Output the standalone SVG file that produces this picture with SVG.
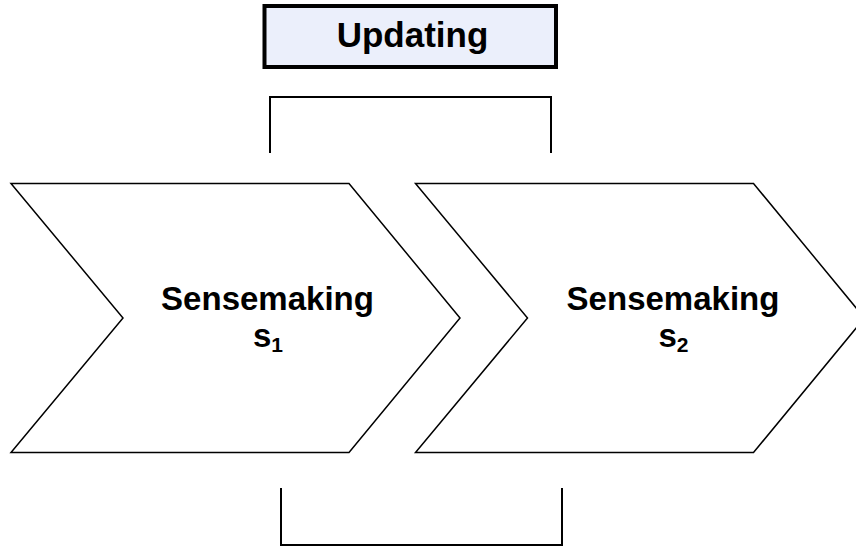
<svg xmlns="http://www.w3.org/2000/svg" width="856" height="548" viewBox="0 0 856 548">
  <style>
    .chev { fill: #ffffff; stroke: #000000; stroke-width: 1.5; stroke-linejoin: miter; }
    .bracket { fill: none; stroke: #000000; stroke-width: 2; }
    .title-box { fill: #ebeffb; stroke: #000000; stroke-width: 4; }
    .lbl { font-family: "Liberation Sans", Arial, sans-serif; font-weight: bold; fill: #000000; text-anchor: middle; }
  </style>
  <rect width="856" height="548" fill="#ffffff"/>

  <g id="updating">
    <rect class="title-box" x="264.5" y="6" width="291.5" height="61"/>
    <text class="lbl" x="412.5" y="47" font-size="35">Updating</text>
  </g>

  <g id="connectors">
    <!-- feedback bracket above the steps -->
    <path class="bracket" d="M270,153 V97 H551 V153"/>
    <!-- feedback bracket below the steps -->
    <path class="bracket" d="M281,488 V545 H562 V488"/>
  </g>

  <g id="sensemaking-s1">
    <polygon class="chev" points="11,183.5 349,183.5 460,318 349,452.5 11,452.5 123,318"/>
    <text class="lbl" x="267.5" y="310" font-size="33">Sensemaking</text>
    <text class="lbl" x="268" y="346.5" font-size="33">s<tspan font-size="21" dy="5">1</tspan></text>
  </g>

  <g id="sensemaking-s2">
    <polygon class="chev" points="415.5,183.5 753.5,183.5 864.5,318 753.5,452.5 415.5,452.5 527.5,318"/>
    <text class="lbl" x="673" y="310" font-size="33">Sensemaking</text>
    <text class="lbl" x="673.5" y="346.5" font-size="33">s<tspan font-size="21" dy="5">2</tspan></text>
  </g>
</svg>
